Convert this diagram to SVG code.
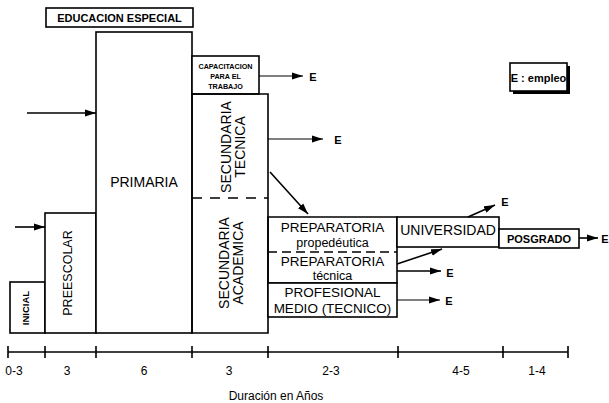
<svg xmlns="http://www.w3.org/2000/svg" width="609" height="403" viewBox="0 0 609 403">
<style>
.box{fill:#fff;stroke:#000;stroke-width:1.6}
.ln{fill:none;stroke:#000;stroke-width:1.6}
.thin{fill:none;stroke:#000;stroke-width:1.2}
.dash{fill:none;stroke:#000;stroke-width:1.6;stroke-dasharray:10,8}
.t{font-family:"Liberation Sans",Arial,sans-serif;fill:#000;text-anchor:middle}
.b{font-weight:bold}
</style>
<defs>
<marker id="ah" markerUnits="userSpaceOnUse" markerWidth="12" markerHeight="8" refX="11" refY="4" orient="auto">
<path d="M0,0.5 L11,4 L0,7.5 z" fill="#000"/>
</marker>
</defs>
<rect width="609" height="403" fill="#fff"/>

<g id="educacion-especial">
<rect class="box" x="46" y="8" width="147" height="19"/>
<text class="t b" x="119.5" y="22" font-size="11">EDUCACION ESPECIAL</text>
</g>

<g id="inicial">
<rect class="box" x="10" y="282" width="35" height="51"/>
<text class="t b" font-size="9.5" transform="translate(29,308) rotate(-90)">INICIAL</text>
</g>

<g id="preescolar">
<rect class="box" x="45" y="213" width="51" height="120"/>
<text class="t" font-size="12.5" transform="translate(72,273) rotate(-90)">PREESCOLAR</text>
</g>

<g id="primaria">
<rect class="box" x="96" y="32" width="96" height="301"/>
<text class="t" x="144" y="187" font-size="14">PRIMARIA</text>
</g>

<g id="capacitacion">
<rect class="box" x="192" y="56" width="67" height="38"/>
<text class="t b" x="225.5" y="69" font-size="7.2">CAPACITACION</text>
<text class="t b" x="225.5" y="79" font-size="7.2">PARA EL</text>
<text class="t b" x="225.5" y="89" font-size="7.2">TRABAJO</text>
</g>

<g id="secundaria-tecnica">
<path class="ln" d="M192,198 V94 H268 V198"/>
<text class="t" font-size="14" transform="translate(231,147) rotate(-90)">SECUNDARIA</text>
<text class="t" font-size="14" transform="translate(245,147) rotate(-90)">TECNICA</text>
</g>

<g id="secundaria-academica">
<path class="ln" d="M192,198 V333 H268 V198"/>
<line class="dash" x1="192" y1="198" x2="268" y2="198"/>
<text class="t" font-size="14" transform="translate(229,263) rotate(-90)">SECUNDARIA</text>
<text class="t" font-size="14" transform="translate(243,263) rotate(-90)">ACADEMICA</text>
</g>

<g id="preparatoria-propedeutica">
<path class="ln" d="M268,252 V217 H397 V252"/>
<line class="dash" x1="268" y1="252" x2="397" y2="252" style="stroke-dasharray:9,5"/>
<text class="t" x="332.5" y="232" font-size="13.5">PREPARATORIA</text>
<text class="t" x="332.5" y="246.5" font-size="12.5">propedéutica</text>
</g>

<g id="preparatoria-tecnica">
<path class="ln" d="M268,252 V283 H397 V252"/>
<text class="t" x="332.5" y="265.5" font-size="13.5">PREPARATORIA</text>
<text class="t" x="332.5" y="280" font-size="12.5">técnica</text>
</g>

<g id="profesional-medio">
<rect class="box" x="268" y="283" width="129" height="34"/>
<text class="t" x="332.5" y="297" font-size="13.5">PROFESIONAL</text>
<text class="t" x="332.5" y="313" font-size="13.5">MEDIO (TECNICO)</text>
</g>

<g id="universidad">
<rect class="box" x="397" y="217" width="102" height="30"/>
<text class="t" x="448" y="235" font-size="14">UNIVERSIDAD</text>
</g>

<g id="posgrado">
<rect class="box" x="499" y="229" width="80" height="19"/>
<text class="t b" x="539" y="243" font-size="11">POSGRADO</text>
</g>

<g id="leyenda">
<rect x="513" y="66" width="57" height="28" fill="#000"/>
<rect class="box" x="510" y="63" width="57" height="28"/>
<text class="t b" x="538.5" y="81.5" font-size="11">E : empleo</text>
</g>

<g id="connectors">
<line class="ln" x1="27" y1="113" x2="96" y2="113" marker-end="url(#ah)"/>
<line class="ln" x1="15" y1="227" x2="45" y2="227" marker-end="url(#ah)"/>
<line class="thin" x1="259" y1="76" x2="303" y2="76" marker-end="url(#ah)"/>
<line class="thin" x1="268" y1="139" x2="323" y2="139" marker-end="url(#ah)"/>
<line class="ln" x1="270" y1="172" x2="308" y2="214" marker-end="url(#ah)"/>
<line class="ln" x1="468" y1="217" x2="495" y2="205" marker-end="url(#ah)"/>
<line class="ln" x1="579" y1="238" x2="598" y2="238" marker-end="url(#ah)"/>
<line class="ln" x1="397" y1="264" x2="442" y2="249" marker-end="url(#ah)"/>
<line class="ln" x1="397" y1="271" x2="441" y2="271" marker-end="url(#ah)"/>
<line class="thin" x1="397" y1="300" x2="440" y2="300" marker-end="url(#ah)"/>
</g>

<g id="etiquetas-e">
<text class="t b" x="313" y="81" font-size="11">E</text>
<text class="t b" x="338" y="144" font-size="11">E</text>
<text class="t b" x="505" y="206" font-size="11">E</text>
<text class="t b" x="605" y="243" font-size="11">E</text>
<text class="t b" x="450" y="277" font-size="11">E</text>
<text class="t b" x="449" y="305" font-size="11">E</text>
</g>

<g id="eje">
<line class="ln" x1="8" y1="352" x2="568" y2="352"/>
<path class="ln" d="M8,346 V358 M45,346 V358 M96,346 V358 M192,346 V358 M268,346 V358 M398,346 V358 M503,346 V358 M568,346 V358"/>
<text class="t" x="14" y="375" font-size="12">0-3</text>
<text class="t" x="67" y="375" font-size="12">3</text>
<text class="t" x="144" y="375" font-size="12">6</text>
<text class="t" x="229" y="375" font-size="12">3</text>
<text class="t" x="331" y="375" font-size="12">2-3</text>
<text class="t" x="461" y="375" font-size="12">4-5</text>
<text class="t" x="537" y="375" font-size="12">1-4</text>
<text class="t" x="276" y="400" font-size="12">Duración en Años</text>
</g>
</svg>
